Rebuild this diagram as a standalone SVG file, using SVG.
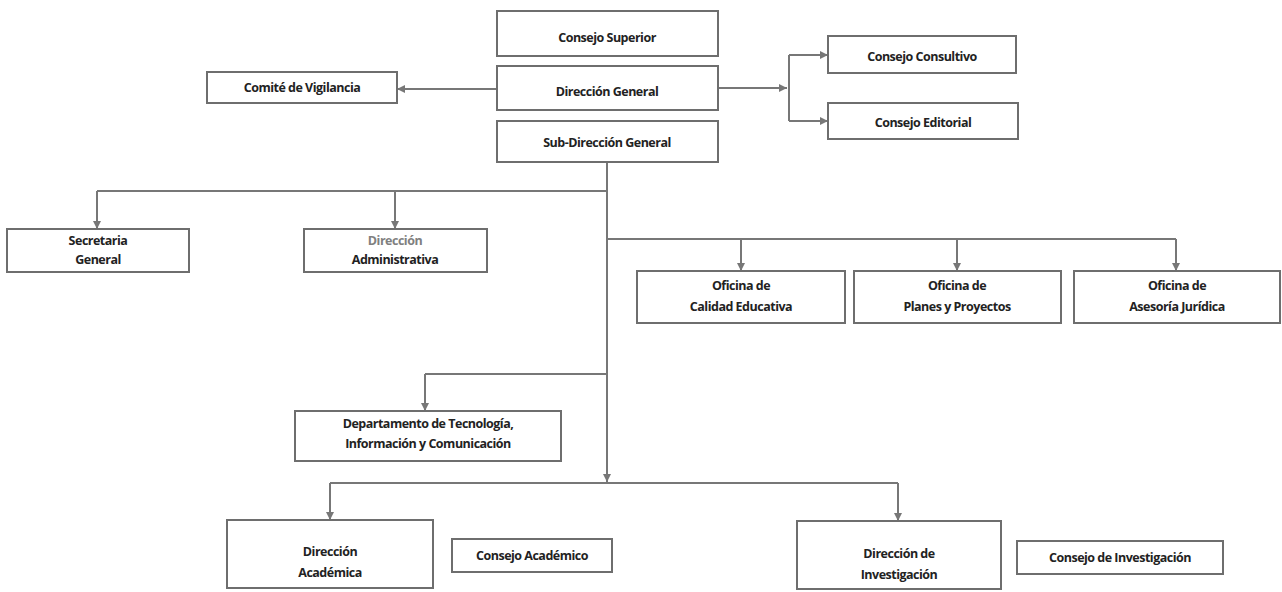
<svg xmlns="http://www.w3.org/2000/svg" width="1282" height="592" viewBox="0 0 1282 592">
  <defs>
    <marker id="arrow" viewBox="0 0 10 10" refX="10" refY="5" markerWidth="8" markerHeight="8" orient="auto" markerUnits="userSpaceOnUse">
      <path d="M0,0 L10,5 L0,10 z" fill="#777"/>
    </marker>
    <style>
      .box { fill: #fff; stroke: #6e6e6e; stroke-width: 2; }
      .lbl { font-family: "Open Sans", "Liberation Sans", sans-serif; font-size: 12.5px; font-weight: 700; fill: #222; text-anchor: middle; letter-spacing: -0.5px; }
      .dim { fill: #808080; }
      .wire { fill: none; stroke: #777; stroke-width: 2; }
      .wire.arr { marker-end: url(#arrow); }
    </style>
  </defs>
  <rect width="1282" height="592" fill="#fff"/>

  <!-- connectors -->
  <g id="connectors">
    <path class="wire arr" d="M497,89 L397,89"/>
    <path class="wire arr" d="M718,88 L787,88"/>
    <path class="wire" d="M789,55 L789,121"/>
    <path class="wire arr" d="M789,55 L828,55"/>
    <path class="wire arr" d="M789,121 L828,121"/>
    <path class="wire" d="M607,161 L607,474"/>
    <path class="wire arr" d="M607,440 L607,482"/>
    <path class="wire" d="M607,191 L97,191"/>
    <path class="wire arr" d="M97,191 L97,229"/>
    <path class="wire arr" d="M395,191 L395,229"/>
    <path class="wire" d="M607,239 L1176,239"/>
    <path class="wire arr" d="M741,239 L741,271"/>
    <path class="wire arr" d="M957,239 L957,271"/>
    <path class="wire arr" d="M1176,239 L1176,271"/>
    <path class="wire" d="M607,374 L425,374"/>
    <path class="wire arr" d="M425,374 L425,411"/>
    <path class="wire" d="M330,483 L898,483"/>
    <path class="wire arr" d="M330,483 L330,520"/>
    <path class="wire arr" d="M898,483 L898,521"/>
  </g>

  <g id="consejo-superior">
    <rect class="box" x="497" y="11" width="221" height="45"/>
    <text class="lbl" x="607" y="42">Consejo Superior</text>
  </g>
  <g id="direccion-general">
    <rect class="box" x="497" y="66" width="221" height="44"/>
    <text class="lbl" x="607" y="96">Dirección General</text>
  </g>
  <g id="sub-direccion-general">
    <rect class="box" x="497" y="121" width="221" height="41"/>
    <text class="lbl" x="607" y="147">Sub-Dirección General</text>
  </g>
  <g id="comite-vigilancia">
    <rect class="box" x="207" y="72" width="190" height="31"/>
    <text class="lbl" x="302" y="92">Comité de Vigilancia</text>
  </g>
  <g id="consejo-consultivo">
    <rect class="box" x="828" y="36" width="188" height="37"/>
    <text class="lbl" x="922" y="61">Consejo Consultivo</text>
  </g>
  <g id="consejo-editorial">
    <rect class="box" x="828" y="103" width="190" height="36"/>
    <text class="lbl" x="923" y="127">Consejo Editorial</text>
  </g>
  <g id="secretaria-general">
    <rect class="box" x="7" y="229" width="182" height="43"/>
    <text class="lbl" x="98" y="245">Secretaria</text>
    <text class="lbl" x="98" y="264">General</text>
  </g>
  <g id="direccion-administrativa">
    <rect class="box" x="304" y="229" width="183" height="43"/>
    <text class="lbl dim" x="395" y="245">Dirección</text>
    <text class="lbl" x="395" y="264">Administrativa</text>
  </g>
  <g id="oficina-calidad">
    <rect class="box" x="637" y="271" width="208" height="52"/>
    <text class="lbl" x="741" y="290">Oficina de</text>
    <text class="lbl" x="741" y="311">Calidad Educativa</text>
  </g>
  <g id="oficina-planes">
    <rect class="box" x="854" y="271" width="207" height="52"/>
    <text class="lbl" x="957" y="290">Oficina de</text>
    <text class="lbl" x="957" y="311">Planes y Proyectos</text>
  </g>
  <g id="oficina-asesoria">
    <rect class="box" x="1074" y="271" width="206" height="52"/>
    <text class="lbl" x="1177" y="290">Oficina de</text>
    <text class="lbl" x="1177" y="311">Asesoría Jurídica</text>
  </g>
  <g id="departamento-tic">
    <rect class="box" x="295" y="411" width="266" height="50"/>
    <text class="lbl" x="428" y="428">Departamento de Tecnología,</text>
    <text class="lbl" x="428" y="448">Información y Comunicación</text>
  </g>
  <g id="direccion-academica">
    <rect class="box" x="227" y="520" width="206" height="68"/>
    <text class="lbl" x="330" y="556">Dirección</text>
    <text class="lbl" x="330" y="577">Académica</text>
  </g>
  <g id="consejo-academico">
    <rect class="box" x="452" y="539" width="160" height="33"/>
    <text class="lbl" x="532" y="560">Consejo Académico</text>
  </g>
  <g id="direccion-investigacion">
    <rect class="box" x="797" y="521" width="204" height="68"/>
    <text class="lbl" x="899" y="558">Dirección de</text>
    <text class="lbl" x="899" y="579">Investigación</text>
  </g>
  <g id="consejo-investigacion">
    <rect class="box" x="1017" y="541" width="206" height="33"/>
    <text class="lbl" x="1120" y="562">Consejo de Investigación</text>
  </g>
</svg>
